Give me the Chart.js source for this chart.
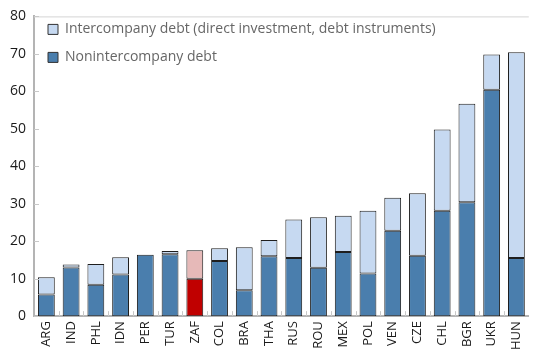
<!DOCTYPE html>
<html><head><meta charset="utf-8">
<script src="https://cdn.jsdelivr.net/npm/chart.js@4/dist/chart.umd.min.js"></script>
<style>html,body{margin:0;padding:0;background:#fff}#wrap{width:537px;height:355px}</style>
</head><body><div id="wrap"><canvas id="c" width="537" height="355"></canvas></div>
<script>
const categories = ["ARG","IND","PHL","IDN","PER","TUR","ZAF","COL","BRA","THA","RUS","ROU","MEX","POL","VEN","CZE","CHL","BGR","UKR","HUN"];
const nonintercompany = [5.8,13.0,8.4,11.1,16.4,16.5,10.0,14.7,6.9,16.0,15.5,12.9,17.1,11.4,22.8,16.1,28.1,30.4,60.4,15.5];
const intercompany   = [4.6,0.8,5.5,4.6,0.0,0.9,7.6,3.4,11.5,4.3,10.3,13.5,9.7,16.7,8.8,16.7,21.7,26.3,9.4,54.9];
const yTicks = [0,10,20,30,40,50,60,70,80];
const seriesNames = ["Nonintercompany debt","Intercompany debt (direct investment, debt instruments)"];

const darkBlue = '#4A7EAD', lightBlue = '#C6D9F1';
const highlight = 'ZAF';
const darkCols = categories.map(c => c === highlight ? '#C00000' : darkBlue);
const lightCols = categories.map(c => c === highlight ? '#E6B9B8' : lightBlue);

const frame = {
  id: 'frame',
  afterDraw(chart) {
    const {ctx, chartArea: a, scales} = chart;
    ctx.save();
    ctx.strokeStyle = '#d4d4d4';
    ctx.lineWidth = 1;
    ctx.beginPath();
    ctx.moveTo(a.left, a.top + 0.5); ctx.lineTo(a.right, a.top + 0.5);
    ctx.stroke();
    ctx.strokeStyle = '#c8c8c8';
    ctx.beginPath();
    yTicks.forEach(v => { const y = Math.round(scales.y.getPixelForValue(v)) + 0.5; ctx.moveTo(a.left, y); ctx.lineTo(a.left + 5, y); });
    const n = categories.length;
    for (let i = 1; i < n; i++) {
      const x = Math.round((scales.x.getPixelForValue(i - 1) + scales.x.getPixelForValue(i)) / 2) + 0.5;
      ctx.moveTo(x, a.bottom); ctx.lineTo(x, a.bottom - 5);
    }
    ctx.stroke();
    ctx.restore();
  }
};

new Chart(document.getElementById('c'), {
  type: 'bar',
  data: {
    labels: categories,
    datasets: [
      { label: seriesNames[0], data: nonintercompany, backgroundColor: darkCols, borderColor: '#1e1e1e', borderWidth: 1, borderSkipped: false },
      { label: seriesNames[1], data: intercompany, backgroundColor: lightCols, borderColor: '#1e1e1e', borderWidth: 1, borderSkipped: false }
    ]
  },
  options: {
    responsive: false,
    animation: false,
    devicePixelRatio: 1,
    layout: { padding: { top: 2, right: 0, left: 0, bottom: 0 } },
    datasets: { bar: { categoryPercentage: 1, barPercentage: 0.68 } },
    plugins: {
      legend: {
        position: 'chartArea', align: 'start', reverse: true,
        title: { display: true, text: ' ', font: { size: 2 }, padding: { top: 0, bottom: 6 } },
        labels: {
          boxWidth: 10, boxHeight: 10, padding: 14, color: '#1a1a1a',
          font: { family: 'Open Sans', size: 14 },
          generateLabels(chart) {
            return chart.data.datasets.map((d, i) => ({
              text: d.label, fillStyle: i === 0 ? darkBlue : lightBlue, strokeStyle: '#333', lineWidth: 1, datasetIndex: i, hidden: false
            }));
          }
        }
      },
      tooltip: { enabled: false }
    },
    scales: {
      x: {
        stacked: true,
        grid: { display: false, drawTicks: false },
        border: { display: true, color: '#b4b4b4', width: 2 },
        ticks: { minRotation: 90, maxRotation: 90, autoSkip: false, padding: 5, color: '#1a1a1a', font: { family: 'Open Sans', size: 13 } }
      },
      y: {
        stacked: true, min: 0, max: 80,
        afterBuildTicks(s) { s.ticks = yTicks.map(v => ({ value: v })); },
        afterFit(s) { s.width = 34; },
        grid: { display: false, drawTicks: false },
        border: { display: true, color: '#b4b4b4', width: 2 },
        ticks: { padding: 8, color: '#1a1a1a', font: { family: 'Open Sans', size: 14 } }
      }
    }
  },
  plugins: [frame]
});
</script></body></html>
